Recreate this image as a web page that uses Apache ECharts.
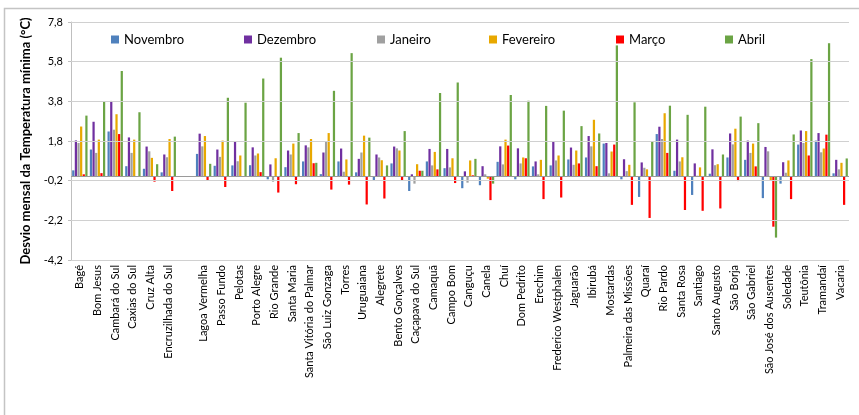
<!DOCTYPE html>
<html>
<head>
<meta charset="utf-8">
<script src="https://cdn.jsdelivr.net/npm/echarts@6/dist/echarts.min.js"></script>
<style>
html,body{margin:0;padding:0;background:#fff;}
#c{width:859px;height:415px;}
</style>
</head>
<body>
<div id="c"></div>
<script>
var categories = ['Bagé','Bom Jesus','Cambará do Sul','Caxias do Sul','Cruz Alta','Encruzilhada do Sul','',
  'Lagoa Vermelha','Passo Fundo','Pelotas','Porto Alegre','Rio Grande','Santa Maria','Santa Vitória do Palmar','São Luiz Gonzaga','Torres','Uruguaiana',
  'Alegrete','Bento Gonçalves','Caçapava do Sul','Camaquã','Campo Bom','Canguçu','Canela','Chuí','Dom Pedrito','Erechim',
  'Frederico Westphalen','Jaguarão','Ibirubá','Mostardas','Palmeira das Missões','Quaraí','Rio Pardo','Santa Rosa','Santiago','Santo Augusto',
  'São Borja','São Gabriel','São José dos Ausentes','Soledade','Teutônia','Tramandaí','Vacaria'];

var novembro = [0.32,1.37,2.28,0.53,0.4,0.22,null,
  1.15,0.55,0.57,0.58,-0.13,0.48,0.77,0.13,0.77,0.22,
  -0.2,0.67,-0.72,0.77,0.43,-0.58,-0.43,0.75,-0.13,0.52,
  0.57,0.87,0.97,1.67,-0.13,-1.02,2.15,0.3,-0.92,0.15,
  0.97,0.85,-1.08,-0.35,1.62,1.82,0.17];
var dezembro = [1.83,2.77,3.82,1.98,1.52,1.12,null,
  2.17,1.37,1.78,1.48,0.62,1.32,1.58,1.22,1.42,0.9,
  1.12,1.52,0.12,1.4,1.4,0.27,0.53,1.53,1.43,0.77,
  1.77,1.47,2.05,1.7,0.88,0.72,2.52,1.87,0.67,1.38,
  2.18,1.82,1.5,0.73,2.33,2.2,0.85];
var janeiro = [1.7,1.2,2.37,1.2,1.28,0.98,null,
  1.53,1.0,0.78,1.07,-0.25,1.12,1.48,1.78,0.25,1.22,
  0.97,1.43,-0.35,0.57,0.47,-0.3,0.12,0.62,0.67,0.12,
  0.82,0.6,1.53,0.17,0.28,0.45,1.9,0.77,0.05,0.58,
  1.63,1.2,1.28,0.2,1.7,1.23,0.37];
var fevereiro = [2.53,1.87,3.15,1.87,0.95,1.9,null,
  2.05,1.82,1.07,1.17,0.93,1.67,1.9,2.2,0.87,2.07,
  0.83,1.32,0.63,1.25,0.93,0.82,-0.1,1.87,0.97,0.85,
  1.07,1.32,2.87,1.27,0.6,0.37,3.2,0.98,0.47,0.63,
  2.42,1.67,-0.18,0.82,2.3,1.42,0.7];
var marco = [0.12,0.18,2.15,0,-0.25,-0.72,null,
  -0.2,-0.52,0,0.23,-0.8,-0.38,0.68,-0.65,-0.4,-1.4,
  -1.1,-0.18,0.3,0.37,-0.32,0.07,-1.18,1.57,0.93,-1.13,
  -1.05,0.67,0.53,1.62,-1.42,-2.08,1.2,-1.68,-1.72,-1.6,
  -0.22,0.52,-2.52,-1.13,1.07,2.12,-1.42];
var abril = [3.08,3.77,5.33,3.25,0.63,2.02,null,
  0.65,3.98,3.73,4.95,6.0,2.2,0.7,4.33,6.23,1.97,
  0.57,2.3,0.3,4.22,4.75,0.9,-0.35,4.12,3.83,3.57,
  3.33,2.55,2.18,6.62,3.75,1.78,3.58,3.12,3.53,1.12,
  3.03,2.7,-3.07,2.13,5.93,6.73,0.92];

var seriesNames = ['Novembro','Dezembro','Janeiro','Fevereiro','Março','Abril'];
var yTicks = [-4.2,-2.2,-0.2,1.8,3.8,5.8,7.8];

var seriesData = [novembro,dezembro,janeiro,fevereiro,marco,abril];
var colors = ['#4F81BD','#7030A0','#A0A0A0','#E8A800','#FF0000','#6BA444'];
var legendLeft = [111,244,377,489,616,725];
var FONT = 'Lato, "Open Sans", "Noto Sans", sans-serif';

var chart = echarts.init(document.getElementById('c'), null, {renderer:'canvas'});

var series = seriesData.map(function(d,i){
  return {
    name: seriesNames[i], type:'bar', data:d, z:3,
    itemStyle:{color:colors[i]},
    barGap:'18%', barCategoryGap:'13%'
  };
});
series.push({
  type:'line', data:[], z:1, silent:true,
  markLine:{
    silent:true, symbol:'none', animation:false,
    label:{show:false},
    lineStyle:{color:'#d0d0d0', type:'solid', width:1},
    data: yTicks.map(function(v){return {yAxis:v};})
  }
});
series.push({
  type:'line', data:[], z:4, silent:true,
  markLine:{
    silent:true, symbol:'none', animation:false,
    label:{show:false},
    lineStyle:{color:'#9a9a9a', type:'solid', width:1},
    data:[{yAxis:0}]
  }
});

var legends = seriesNames.map(function(n,i){
  return {
    data:[n], left:legendLeft[i], top:33, padding:0,
    icon:'rect', itemWidth:8, itemHeight:8, itemGap:5,
    textStyle:{fontFamily:FONT, fontSize:13, color:'#000'}
  };
});

chart.setOption({
  animation:false,
  color:colors,
  textStyle:{fontFamily:FONT},
  graphic:[{
    type:'rect', shape:{x:4.5,y:8.5,width:1000,height:1000},
    style:{fill:'none', stroke:'#c4c4c4', lineWidth:1.5}, silent:true, z:-10
  }],
  legend:legends,
  grid:{left:71, right:10, top:22, bottom:155, containLabel:false},
  xAxis:{
    type:'category', data:categories,
    axisLine:{onZero:false, show:false},
    axisTick:{show:false},
    axisLabel:{rotate:90, interval:0, fontSize:11, color:'#000', margin:5, fontFamily:FONT},
    splitLine:{show:false}
  },
  yAxis:{
    type:'value', min:-4.2, max:7.8,
    name:'Desvio mensal da Temperatura mínima (°C)',
    nameLocation:'middle', nameGap:33, nameRotate:90,
    nameTextStyle:{fontFamily:FONT, fontSize:13, fontWeight:'bold', color:'#000'},
    axisLine:{show:true, lineStyle:{color:'#bfbfbf'}},
    axisTick:{show:true, length:3, customValues:yTicks, lineStyle:{color:'#bfbfbf'}},
    axisLabel:{customValues:yTicks, fontSize:11, color:'#000', margin:8, fontFamily:FONT,
      formatter:function(v){return String(Math.round(v*10)/10).replace('.',',');}},
    splitLine:{show:false}
  },
  series:series
});
</script>
</body>
</html>
